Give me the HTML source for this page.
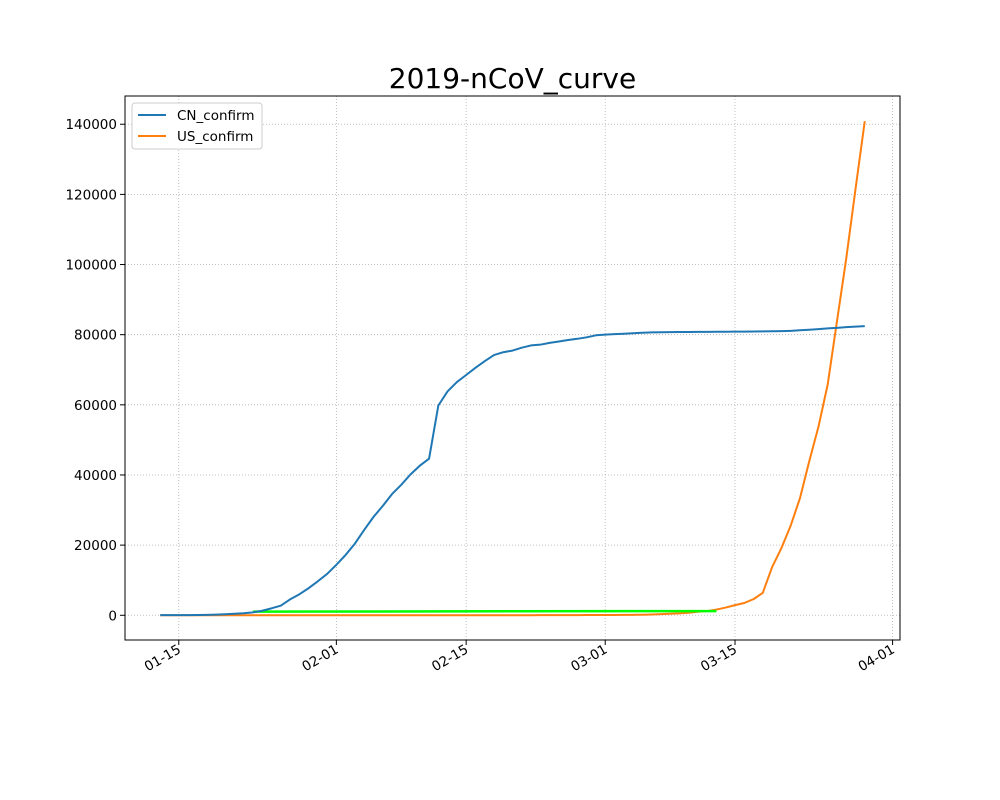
<!DOCTYPE html>
<html><head><meta charset="utf-8"><style>
body{margin:0;background:#fff}
svg{display:block;font-family:"DejaVu Sans","Liberation Sans",sans-serif}
</style></head><body>
<svg id="chart" width="1000" height="800" xmlns="http://www.w3.org/2000/svg">
<rect width="1000" height="800" fill="#fff"/>
<text x="512.5" y="88" font-size="28" text-anchor="middle">2019-nCoV_curve</text>
<g id="grid"></g>
<g id="series"></g>
<rect x="125" y="96" width="775" height="544" fill="none" stroke="#000" stroke-width="1"/>
<g id="axes"></g>
<g>
<rect x="132" y="103" width="130" height="46" fill="#fff" stroke="#ccc" rx="3"/>
<line x1="138" y1="115" x2="166" y2="115" stroke="#1f77b4" stroke-width="2"/>
<text x="177" y="120" font-size="13.5">CN_confirm</text>
<line x1="138" y1="136" x2="166" y2="136" stroke="#ff7f0e" stroke-width="2"/>
<text x="177" y="141" font-size="13.5">US_confirm</text>
</g>
</svg>
<script>
// days offset from Jan 15, 2020 (Jan 13 .. Mar 29)
const cnStart = -2;
const cnValues = [41,41,41,45,62,121,198,
291,440,571,830,1287,1975,2744,4515,5974,7711,9692,11791,
14380,17205,20438,24324,28018,31161,34546,37198,40171,42638,44653,59804,63851,66492,68500,70548,72436,74185,75002,75465,76288,76936,77150,77658,78064,78497,78824,79251,79824,
80026,80151,80270,80409,80552,80651,80695,80735,80754,80778,80793,80813,80824,80844,80860,80881,80894,80928,80967,81008,81100,81250,81400,81600,81800,81950,82150,82300,82450];
const usStart = -2;
const usValues = [0,0,0,0,0,0,0,
0,0,1,1,1,2,2,5,5,5,5,6,7,
8,11,11,11,12,12,12,12,12,12,13,13,14,14,15,15,15,15,15,15,15,35,35,35,53,57,60,60,68,
75,100,124,158,221,319,435,541,704,994,1200,1630,2200,2900,3500,4600,6400,13700,19100,25500,33300,43800,53700,65800,83800,101700,121500,140900];
const greenDays = [8,58];
const greenValues = [1050,1200];
const xTickDays = [0,17,31,46,60,77];
const xTickLabels = ["01-15","02-01","02-15","03-01","03-15","04-01"];
const yTicks = [0,20000,40000,60000,80000,100000,120000,140000];

const X0=125,X1=900,Y0=96,Y1=640, dMin=-5.8,dMax=77.8, vMin=-7050,vMax=148050;
const xs=d=>X0+(d-dMin)/(dMax-dMin)*(X1-X0);
const ys=v=>Y1-(v-vMin)/(vMax-vMin)*(Y1-Y0);
const NS="http://www.w3.org/2000/svg";
function mk(tag,attrs,parent){const e=document.createElementNS(NS,tag);for(const k in attrs)e.setAttribute(k,attrs[k]);parent.appendChild(e);return e;}
const grid=document.getElementById('grid'),axes=document.getElementById('axes'),ser=document.getElementById('series');
xTickDays.forEach((d,i)=>{const x=xs(d);
 const g=mk('line',{x1:x,x2:x,y1:Y0,y2:Y1,stroke:'#b0b0b0','stroke-width':0.8,'stroke-dasharray':'1,2'},grid);
 
 const t=mk('line',{x1:x,x2:x,y1:Y1,y2:Y1+5,stroke:'#000'},axes);
 
 const l=mk('text',{x:x+3,y:Y1+12,'font-size':13.5,'text-anchor':'end',transform:`rotate(-30 ${x+3} ${Y1+12})`},axes);
 
 l.textContent=xTickLabels[i];});
yTicks.forEach(v=>{const y=ys(v);
 const g=mk('line',{x1:X0,x2:X1,y1:y,y2:y,stroke:'#b0b0b0','stroke-width':0.8,'stroke-dasharray':'1,2'},grid);
 
 const t=mk('line',{x1:X0-5,x2:X0,y1:y,y2:y,stroke:'#000'},axes);
 
 const l=mk('text',{x:X0-8,y:y+5,'font-size':13.5,'text-anchor':'end'},axes);
 
 l.textContent=v;});
function line(days,vals,color,w,name){
 const p=mk('polyline',{points:vals.map((v,i)=>xs(days[i])+','+ys(v)).join(' '),fill:'none',stroke:color,'stroke-width':w,'stroke-linejoin':'round'},ser);
 }
line(usValues.map((_,i)=>usStart+i),usValues,'#ff7f0e',2,'us-confirm-line');
line(greenDays,greenValues,'#00ff00',2.5,'green-line');
line(cnValues.map((_,i)=>cnStart+i),cnValues,'#1f77b4',2,'cn-confirm-line');
</script>
</body></html>
